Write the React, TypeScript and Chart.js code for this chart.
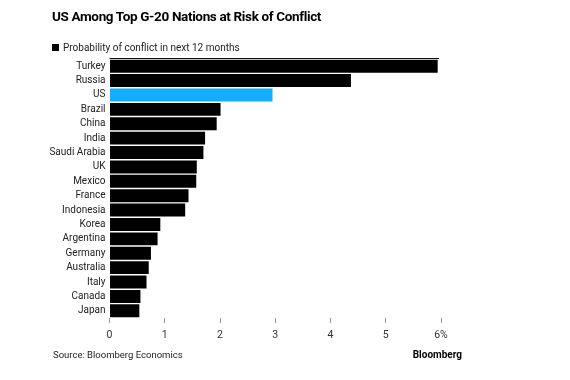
import React, { useEffect, useRef } from "react";
import { Chart, registerables } from "chart.js";

Chart.register(...registerables);

const countries = ["Turkey", "Russia", "US", "Brazil", "China", "India", "Saudi Arabia", "UK", "Mexico", "France", "Indonesia", "Korea", "Argentina", "Germany", "Australia", "Italy", "Canada", "Japan"];
const probability = [5.94, 4.37, 2.95, 2.01, 1.94, 1.73, 1.7, 1.58, 1.57, 1.43, 1.37, 0.92, 0.87, 0.75, 0.71, 0.67, 0.56, 0.54];
const highlight = "US";
const xTicks = [0, 1, 2, 3, 4, 5, 6];

const FONT = "Roboto, 'Liberation Sans', Arial, sans-serif";

export default function App() {
  const ref = useRef<HTMLCanvasElement | null>(null);
  useEffect(() => {
    document.body.style.margin = "0";
    const topLine = {
      id: "topLine",
      afterDraw(chart: any) {
        const { ctx, chartArea } = chart;
        ctx.save();
        ctx.strokeStyle = "#111";
        ctx.lineWidth = 1;
        ctx.beginPath();
        ctx.moveTo(chartArea.left, chartArea.top - 0.5);
        ctx.lineTo(chartArea.right - 2, chartArea.top - 0.5);
        ctx.stroke();
        ctx.restore();
      },
    };
    const chart = new Chart(ref.current!, {
      type: "bar",
      data: {
        labels: countries,
        datasets: [
          {
            data: probability,
            backgroundColor: countries.map((c) => (c === highlight ? "#12adff" : "#000000")),
            barPercentage: 0.9,
            categoryPercentage: 1,
          },
        ],
      },
      options: {
        indexAxis: "y",
        animation: false,
        responsive: false,
        layout: { padding: { top: 59, right: 129, bottom: 32, left: 0 } },
        plugins: { legend: { display: false }, tooltip: { enabled: false } },
        scales: {
          x: {
            min: 0,
            max: 6,
            afterFit: (s: any) => { s.height = 30; },
            afterBuildTicks: (s: any) => { s.ticks = xTicks.map((v) => ({ value: v })); },
            grid: { drawOnChartArea: false, drawTicks: true, tickLength: 5, color: "#999" },
            border: { display: false },
            ticks: {
              padding: 6,
              color: "#333",
              font: { family: FONT, size: 10.5 },
              callback: (v: any) => (v === 6 ? "6%" : String(v)),
            },
          },
          y: {
            afterFit: (s: any) => { s.width = 109.5; },
            grid: { display: false, drawTicks: false },
            border: { display: false },
            ticks: { padding: 4, color: "#222", font: { family: FONT, size: 10 }, autoSkip: false },
          },
        },
      },
      plugins: [topLine],
    });
    return () => chart.destroy();
  }, []);

  return (
    <div style={{ position: "relative", width: 570, height: 380, background: "#fff", fontFamily: FONT }}>
      <canvas ref={ref} width={570} height={380} style={{ position: "absolute", left: 0, top: 0 }} />
      <div style={{ position: "absolute", left: 52, top: 8, fontSize: 13.5, fontWeight: "bold", color: "#000", letterSpacing: -0.35 }}>
        US Among Top G-20 Nations at Risk of Conflict
      </div>
      <div style={{ position: "absolute", left: 52, top: 42, fontSize: 10, color: "#222", display: "flex", alignItems: "center" }}>
        <span style={{ display: "inline-block", width: 7, height: 7, background: "#000", marginRight: 4 }} />
        Probability of conflict in next 12 months
      </div>
      <div style={{ position: "absolute", left: 53, top: 349, fontSize: 9.5, color: "#222" }}>Source: Bloomberg Economics</div>
      <div style={{ position: "absolute", right: 108, top: 349, fontSize: 10, fontWeight: "bold", color: "#000" }}>Bloomberg</div>
    </div>
  );
}
